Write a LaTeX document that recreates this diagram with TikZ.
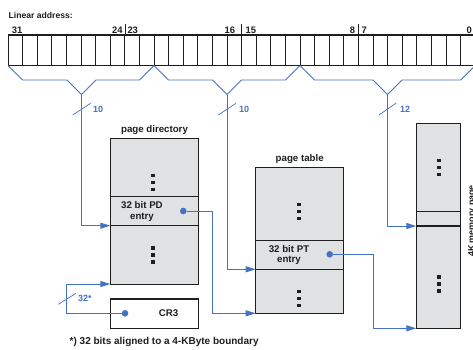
\documentclass[tikz,border=0pt]{standalone}
\usepackage{fontspec}
\setmainfont{Liberation Sans}
\usetikzlibrary{arrows.meta}
\definecolor{lnblue}{RGB}{68,114,196}
\definecolor{boxgray}{RGB}{224,225,227}
\definecolor{ink}{RGB}{30,30,30}
\tikzset{
  blueline/.style={draw=lnblue, line width=0.9pt},
  conn/.style={draw=lnblue, line width=0.9pt, -{Triangle[length=10pt,width=6pt]}},
  slashmark/.style={draw=lnblue, line width=0.7pt},
  buslabel/.style={text=lnblue, font=\bfseries\fontsize{9}{10}\selectfont, inner sep=0, anchor=west},
  bitnum/.style={text=ink, font=\bfseries\fontsize{9.4}{10}\selectfont, inner sep=0},
  boxlabel/.style={text=ink, font=\bfseries\fontsize{9.7}{10.5}\selectfont, inner sep=0},
  membox/.style={draw=ink, line width=0.9pt, fill=boxgray, inner sep=0, outer sep=0},
  thindiv/.style={draw=ink, line width=0.7pt},
  thickdiv/.style={draw=ink, line width=1.4pt},
  bluedot/.style={circle, fill=lnblue, minimum size=6.6pt, inner sep=0},
  vellip/.pic={\foreach \d in {-7,0,7} \fill[ink] (-1.7,\d-1.7) rectangle (1.7,\d+1.7);}
}
\begin{document}
\begin{tikzpicture}[x=1pt,y=-1pt]
\useasboundingbox (0,0) rectangle (473,349);
\clip (0,0) rectangle (473,349);

% linear address register
\node[text=ink, font=\bfseries\fontsize{8.6}{10}\selectfont, inner sep=0, anchor=base west] (lintitle) at (8.5,18.5) {Linear address:};
\foreach \i in {0,...,32} \draw[ink, line width=0.7pt] ({8+\i*14.6},35) -- ({8+\i*14.6},65.5);
\foreach \i in {8,16,24} \draw[ink, line width=0.6pt] ({8+\i*14.6},24) -- ({8+\i*14.6},35);
\draw[ink, line width=1.6pt] (8,35) -- (480,35);
\draw[ink, line width=0.9pt] (8,65.5) -- (480,65.5);
\node[bitnum, anchor=base west] (b31) at (11.8,33.3) {31};
\node[bitnum, anchor=base east] (b24) at (122.8,33.3) {24};
\node[bitnum, anchor=base west] (b23) at (127.3,33.3) {23};
\node[bitnum, anchor=base east] (b16) at (235.2,33.3) {16};
\node[bitnum, anchor=base west] (b15) at (245.5,33.3) {15};
\node[bitnum, anchor=base east] (b8) at (355.3,33.3) {8};
\node[bitnum, anchor=base west] (b7) at (361.5,33.3) {7};
\node[bitnum, anchor=base east] (b0) at (472,33.3) {0};

% braces
\coordinate (v1) at (81.5,94.5);
\coordinate (v2) at (227,94.5);
\coordinate (v3) at (387.5,94.5);
\draw[blueline] (8,65.5) -- (22.5,80) -- (67,80) -- (v1) -- (96,80) -- (139.5,80) -- (154,65.5);
\draw[blueline] (154,65.5) -- (168.5,80) -- (212.5,80) -- (v2) -- (241.5,80) -- (285.5,80) -- (300,65.5);
\draw[blueline] (300,65.5) -- (314.5,80) -- (373,80) -- (v3) -- (402,80) -- (460.7,80) -- (475.2,65.5);

% boxes
\node[membox, minimum width=88.4pt, minimum height=145.7pt] (pd) at (154.5,211.15) {};
\node[membox, minimum width=88pt, minimum height=146pt] (pt) at (299.7,240.3) {};
\node[membox, minimum width=44.4pt, minimum height=205pt] (mp) at (438.5,225.8) {};
\node[draw=ink, line width=1.5pt, fill=white, minimum width=88.4pt, minimum height=29.3pt, inner sep=0] (cr3) at (154.5,313.65) {};

\coordinate (pdsplitA) at (0,196.7);
\coordinate (pdsplitB) at (0,225.7);
\coordinate (ptsplitA) at (0,240.7);
\coordinate (ptsplitB) at (0,269.3);
\coordinate (mpsplitA) at (0,211);
\coordinate (mpsplitB) at (0,226);
\draw[thindiv] (pd.west |- pdsplitA) -- (pd.east |- pdsplitA);
\draw[thickdiv] (pd.west |- pdsplitB) -- (pd.east |- pdsplitB);
\draw[thindiv] (pt.west |- ptsplitA) -- (pt.east |- ptsplitA);
\draw[thindiv] (pt.west |- ptsplitB) -- (pt.east |- ptsplitB);
\draw[thindiv] (mp.west |- mpsplitA) -- (mp.east |- mpsplitA);
\draw[thickdiv] (mp.west |- mpsplitB) -- (mp.east |- mpsplitB);

\pic at (153,182.3) {vellip};
\pic at (153,255) {vellip};
\pic at (299,211.5) {vellip};
\pic at (299,298.5) {vellip};
\pic at (439,167.3) {vellip};
\pic at (439,284) {vellip};

% labels
\node[boxlabel, anchor=base] (pdtitle) at (154.5,132) {page directory};
\node[boxlabel, anchor=base] (pttitle) at (299.7,161.5) {page table};
\node[boxlabel, align=center] (pdentry) at (142,211.5) {32 bit PD\\entry};
\node[boxlabel, align=center] (ptentry) at (289,255) {32 bit PT\\entry};
\node[boxlabel] (cr3text) at (168.5,313.3) {CR3};
\node[text=ink, font=\bfseries\fontsize{8.9}{10}\selectfont, inner sep=0, rotate=90, anchor=north] (mptitle) at (468,221) {4K memory page};
\node[text=ink, font=\bfseries\fontsize{10}{11}\selectfont, inner sep=0, anchor=base west] (foot) at (69.5,344.5) {*) 32 bits aligned to a 4-KByte boundary};

% dots
\node[bluedot] (pddot) at (183.3,211) {};
\node[bluedot] (ptdot) at (329.7,254.3) {};
\node[bluedot] (crdot) at (125,313.3) {};

% connectors
\draw[conn] (v1) |- (pd.west |- pdsplitB);
\draw[conn] (v2) |- (pt.west |- ptsplitB);
\draw[conn] (v3) |- (mp.west |- mpsplitB);
\draw[conn] (pddot) -- ++(29,0) |- (pt.south west);
\draw[conn] (ptdot) -- ++(43.3,0) |- (mp.south west);
\draw[conn] (crdot) -- ++(-58.3,0) |- (pd.south west);

% bus width marks
\draw[slashmark] (72.7,115) -- (90.7,103.3);
\node[buslabel] (w1) at (92.8,109) {10};
\draw[slashmark] (218.3,115) -- (236,103.3);
\node[buslabel] (w2) at (238.8,109) {10};
\draw[slashmark] (379,115) -- (396.3,103);
\node[buslabel] (w3) at (400,109) {12};
\draw[slashmark] (58.3,304.3) -- (76,293.3);
\node[buslabel] (w4) at (78,298.5) {32*};
\end{tikzpicture}
\end{document}
